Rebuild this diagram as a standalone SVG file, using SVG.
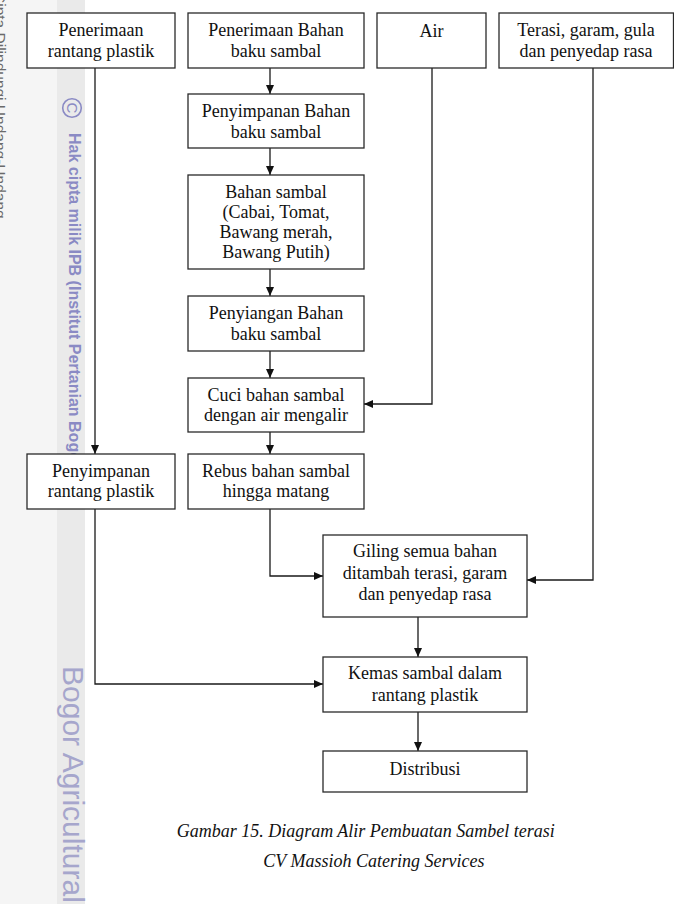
<svg xmlns="http://www.w3.org/2000/svg" width="674" height="904" viewBox="0 0 674 904">
<defs>
<style>
.box{fill:#fff;stroke:#2a2a2a;stroke-width:1.3}
.t{font-family:"Liberation Serif","Times New Roman",serif;font-size:18px;fill:#111;text-anchor:middle}
.cap{font-family:"Liberation Serif","Times New Roman",serif;font-size:18px;font-style:italic;fill:#111}
.ln{fill:none;stroke:#1a1a1a;stroke-width:1.3}
.wm{font-family:"Liberation Sans",Arial,sans-serif;fill:#8a8ac4}
</style>
<marker id="ah" markerUnits="userSpaceOnUse" markerWidth="9" markerHeight="8" refX="9" refY="4" orient="auto">
<path d="M0,0 L9,4 L0,8 z" fill="#111"/>
</marker>
</defs>
<rect x="0" y="0" width="674" height="904" fill="#fff"/>
<g id="watermark">
<rect x="0" y="0" width="57" height="904" fill="#f5f5f5"/>
<rect x="57" y="0" width="28" height="904" fill="#eaeaea"/>
<text transform="translate(-5,-8) rotate(90)" font-family="'Liberation Sans',Arial,sans-serif" font-size="15.5" fill="#6a6a6a">Cipta Dilindungi Undang-Undang</text>
<circle cx="72" cy="108" r="9.3" fill="none" stroke="#8a8ac4" stroke-width="1.6"/>
<text class="wm" transform="translate(67,102.5) rotate(90)" font-size="15">C</text>
<text class="wm" transform="translate(68.5,133) rotate(90)" font-size="16" font-weight="bold">Hak cipta milik IPB (Institut Pertanian Bogor)</text>
<text transform="translate(62.7,666) rotate(90)" font-family="'Liberation Sans',Arial,sans-serif" font-size="30" fill="#a6a6cc">Bogor Agricultural</text>
</g>
<g id="connectors">
<path class="ln" d="M95,68 V454" marker-end="url(#ah)"/>
<path class="ln" d="M95,509 V684 H323" marker-end="url(#ah)"/>
<path class="ln" d="M270,68 V94" marker-end="url(#ah)"/>
<path class="ln" d="M270,148 V175" marker-end="url(#ah)"/>
<path class="ln" d="M270,269 V296" marker-end="url(#ah)"/>
<path class="ln" d="M270,351 V378" marker-end="url(#ah)"/>
<path class="ln" d="M270,432 V454" marker-end="url(#ah)"/>
<path class="ln" d="M270,509 V576 H323" marker-end="url(#ah)"/>
<path class="ln" d="M432,68 V404 H364" marker-end="url(#ah)"/>
<path class="ln" d="M593,68 V580 H527" marker-end="url(#ah)"/>
<path class="ln" d="M418,617 V657" marker-end="url(#ah)"/>
<path class="ln" d="M418,712 V751" marker-end="url(#ah)"/>
</g>
<g id="n1"><rect class="box" x="27" y="13" width="148" height="55"/>
<text class="t" x="101" y="36">Penerimaan</text><text class="t" x="101" y="56.5">rantang plastik</text></g>
<g id="n2"><rect class="box" x="188" y="13" width="176" height="55"/>
<text class="t" x="276" y="36">Penerimaan Bahan</text><text class="t" x="276" y="56.5">baku sambal</text></g>
<g id="n3"><rect class="box" x="377" y="13" width="109" height="55"/>
<text class="t" x="431.5" y="36.5">Air</text></g>
<g id="n4"><rect class="box" x="499" y="13" width="174.5" height="55"/>
<text class="t" x="586" y="36">Terasi, garam, gula</text><text class="t" x="586" y="56.5">dan penyedap rasa</text></g>
<g id="n5"><rect class="box" x="188" y="94" width="176" height="54"/>
<text class="t" x="276" y="117.3">Penyimpanan Bahan</text><text class="t" x="276" y="138">baku sambal</text></g>
<g id="n6"><rect class="box" x="188" y="175" width="176" height="94"/>
<text class="t" x="276" y="198.3">Bahan sambal</text><text class="t" x="276" y="218.3">(Cabai, Tomat,</text><text class="t" x="276" y="238.3">Bawang merah,</text><text class="t" x="276" y="258.3">Bawang Putih)</text></g>
<g id="n7"><rect class="box" x="188" y="296" width="176" height="55"/>
<text class="t" x="276" y="319.3">Penyiangan Bahan</text><text class="t" x="276" y="340">baku sambal</text></g>
<g id="n8"><rect class="box" x="188" y="378" width="176" height="54"/>
<text class="t" x="276" y="400.7">Cuci bahan sambal</text><text class="t" x="276" y="420.7">dengan air mengalir</text></g>
<g id="n9"><rect class="box" x="27" y="454" width="148" height="55"/>
<text class="t" x="101" y="476.7">Penyimpanan</text><text class="t" x="101" y="497.3">rantang plastik</text></g>
<g id="n10"><rect class="box" x="188" y="454" width="176" height="55"/>
<text class="t" x="276" y="476.7">Rebus bahan sambal</text><text class="t" x="276" y="497.3">hingga matang</text></g>
<g id="n11"><rect class="box" x="323" y="535" width="204" height="82"/>
<text class="t" x="425" y="557">Giling semua bahan</text><text class="t" x="425" y="578.5">ditambah terasi, garam</text><text class="t" x="425" y="600">dan penyedap rasa</text></g>
<g id="n12"><rect class="box" x="323" y="657" width="204" height="55"/>
<text class="t" x="425" y="679.3">Kemas sambal dalam</text><text class="t" x="425" y="701">rantang plastik</text></g>
<g id="n13"><rect class="box" x="323" y="751" width="204" height="41"/>
<text class="t" x="425" y="775">Distribusi</text></g>
<g id="caption">
<text class="cap" x="176.7" y="837">Gambar 15. Diagram Alir Pembuatan Sambel terasi</text>
<text class="cap" x="263.3" y="866.5">CV Massioh Catering Services</text>
</g>
</svg>
